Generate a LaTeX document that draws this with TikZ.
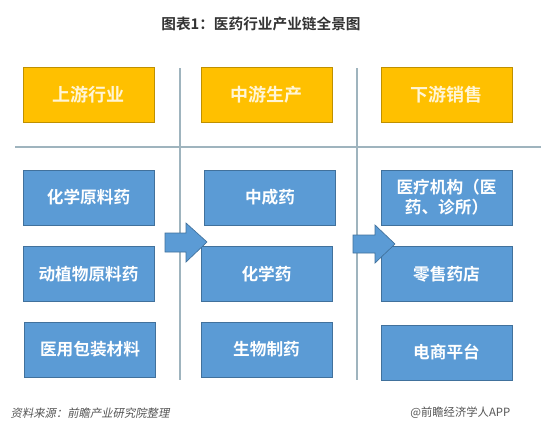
\documentclass[tikz,border=0pt]{standalone}
\usepackage{fontspec}
\setmainfont{Noto Sans CJK SC}
\newfontfamily\cjkb[BoldFont=* Bold]{Noto Sans CJK SC}
\newfontfamily\cjkit[FakeSlant=0.2]{Noto Sans CJK SC}
\definecolor{yfill}{HTML}{FFC000}
\definecolor{ydraw}{HTML}{BF9000}
\definecolor{ytext}{HTML}{FFF5D6}
\definecolor{bfill}{HTML}{5B9BD5}
\definecolor{bdraw}{HTML}{41719C}
\definecolor{sepline}{HTML}{9FB4BE}
\definecolor{titlec}{HTML}{333333}
\definecolor{footc}{HTML}{555555}
\tikzset{
  ybox/.style={fill=yfill,draw=ydraw,line width=0.6pt,minimum width=98.25pt,minimum height=41.25pt,inner sep=0pt,text=ytext,font=\cjkb\bfseries\fontsize{13.5}{16}\selectfont},
  bbox/.style={fill=bfill,draw=bdraw,line width=0.6pt,minimum width=98.25pt,minimum height=41.25pt,inner sep=0pt,text=white,align=center,font=\cjkb\bfseries\fontsize{12.5}{15}\selectfont},
  blockarrow/.style={fill=bfill,draw=bdraw,line width=0.5pt},
  sep/.style={draw=sepline,line width=0.8pt}
}
\begin{document}
\begin{tikzpicture}[x=0.75pt,y=-0.75pt]
\useasboundingbox[fill=white] (0,0) rectangle (541,430);
% title
\node[text=titlec,font=\cjkb\bfseries\fontsize{11}{13}\selectfont] (title) at (261,24) {图表1：医药行业产业链全景图};
% separator lines
\coordinate (hl1) at (15,147);
\coordinate (hl2) at (541,147);
\coordinate (v1a) at (180,68);
\coordinate (v1b) at (180,380);
\coordinate (v2a) at (357,68);
\coordinate (v2b) at (357,380);
\draw[sep] (hl1) -- (hl2);
\draw[sep] (v1a) -- (v1b);
\draw[sep] (v2a) -- (v2b);
% header boxes
\node[ybox] (up) at (88.5,94.5) {上游行业};
\node[ybox] (mid) at (266.5,94.5) {中游生产};
\node[ybox] (down) at (446.5,94.5) {下游销售};
% column 1
\node[bbox] (u1) at (88.5,197.5) {化学原料药};
\node[bbox] (u2) at (88.5,274) {动植物原料药};
\node[bbox] (u3) at (90,349.5) {医用包装材料};
% column 2
\node[bbox] (m1) at (270,197.5) {中成药};
\node[bbox] (m2) at (266.5,274) {化学药};
\node[bbox] (m3) at (266.5,349.5) {生物制药};
% column 3
\node[bbox] (d1) at (446.5,197.5) {医疗机构（医\\药、诊所）};
\node[bbox] (d2) at (446.5,274) {零售药店};
\node[bbox] (d3) at (446.5,352.5) {电商平台};
% block arrows
\draw[blockarrow] (165,233) -- (186,233) -- (186,223) -- (207,242) -- (186,262) -- (186,252) -- (165,252) -- cycle;
\draw[blockarrow] (353,235) -- (375,235) -- (375,225) -- (395,244) -- (375,263) -- (375,253) -- (353,253) -- cycle;
% footer
\node[anchor=west,text=footc,font=\cjkit\fontsize{8.5}{10}\selectfont] (src) at (6,413) {资料来源：前瞻产业研究院整理};
\node[anchor=east,text=footc,font=\fontsize{8.5}{10}\selectfont] (brand) at (515,413) {@前瞻经济学人APP};
\end{tikzpicture}
\end{document}
